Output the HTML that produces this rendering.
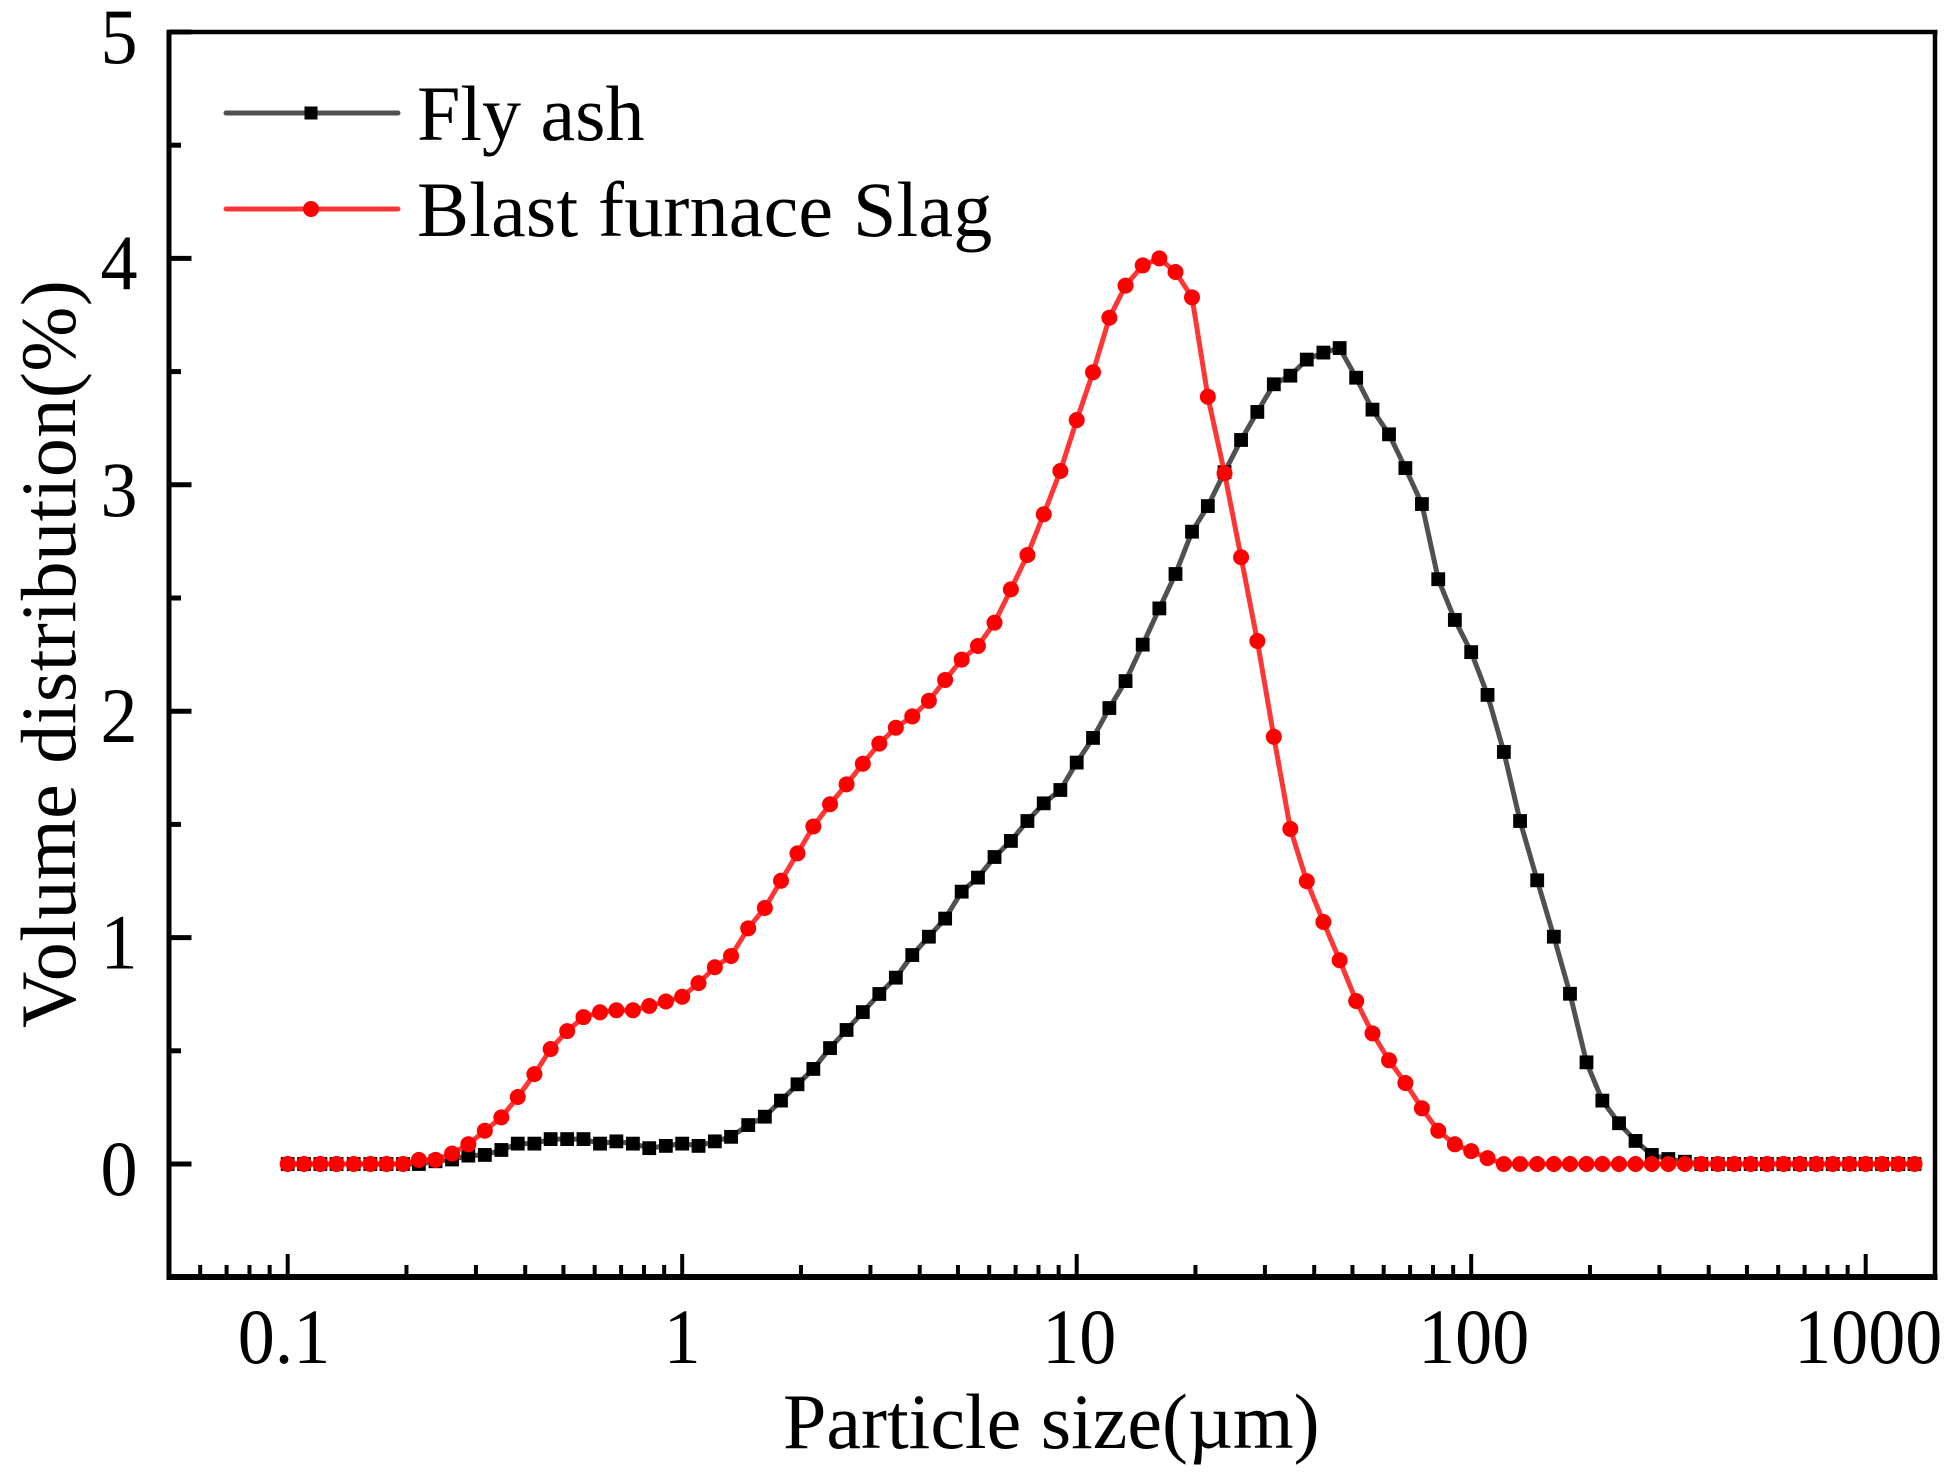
<!DOCTYPE html>
<html lang="en">
<head>
<meta charset="utf-8">
<title>Particle size distribution</title>
<style>
html,body{margin:0;padding:0;background:#fff;}
svg{display:block;}
text{font-family:"Liberation Serif","Times New Roman",serif;font-size:78px;fill:#000;}
</style>
</head>
<body>
<svg id="chart" xmlns="http://www.w3.org/2000/svg" width="1953" height="1480" viewBox="0 0 1953 1480">
  <rect x="0" y="0" width="1953" height="1480" fill="#fff"/>
  <g id="series"></g>
  <g id="axes"></g>
  <text x="783" y="1448">Particle size(µm)</text>
  <text transform="translate(75,1028) rotate(-90)" style="letter-spacing:0.5px">Volume distribution(%)</text>
  <g id="legend"></g>
</svg>
<script>
var particleSizes = [
0.1,0.11,0.121,0.133,0.147,0.162,0.178,0.196,0.215,0.237,0.261,0.287,0.316,0.348,0.383,0.422,0.464,0.511,0.562,0.619,0.681,0.75,0.825,0.909,
1,1.1,1.21,1.33,1.47,1.62,1.78,1.96,2.15,2.37,2.61,2.87,3.16,3.48,3.83,4.22,4.64,5.11,5.62,6.19,6.81,7.5,8.25,9.09,
10,11,12.1,13.3,14.7,16.2,17.8,19.6,21.5,23.7,26.1,28.7,31.6,34.8,38.3,42.2,46.4,51.1,56.2,61.9,68.1,75,82.5,90.9,
100,110,121,133,147,162,178,196,215,237,261,287,316,348,383,422,464,511,562,619,681,750,825,909,
1000,1100,1210,1330];
var flyAsh = [
0,0,0,0,0,0,0,0,0,0.012,
0.02,0.037,0.04,0.062,0.09,0.09,0.11,0.11,0.11,0.09,
0.10,0.09,0.07,0.08,0.09,0.08,0.10,0.12,0.172,0.209,
0.28,0.352,0.42,0.512,0.592,0.671,0.751,0.823,0.923,1.004,
1.084,1.203,1.265,1.356,1.427,1.515,1.593,1.652,1.773,1.882,
2.014,2.133,2.294,2.454,2.606,2.793,2.906,3.056,3.198,3.322,
3.444,3.482,3.553,3.584,3.604,3.473,3.332,3.223,3.074,2.915,
2.583,2.403,2.261,2.072,1.82,1.515,1.253,1.004,0.752,0.449,
0.28,0.18,0.102,0.04,0.022,0.01,0,0,0,0,
0,0,0,0,0,0,0,0,0,0];
var blastFurnaceSlag = [
0,0,0,0,0,0,0,0,0.018,0.018,
0.046,0.087,0.147,0.206,0.296,0.397,0.508,0.587,0.649,0.67,
0.679,0.679,0.698,0.718,0.739,0.799,0.869,0.919,1.041,1.131,
1.251,1.372,1.491,1.589,1.677,1.768,1.857,1.927,1.977,2.046,
2.138,2.228,2.288,2.391,2.538,2.69,2.87,3.061,3.286,3.497,
3.738,3.88,3.969,4.0,3.94,3.828,3.389,3.051,2.68,2.31,
1.887,1.48,1.249,1.069,0.9,0.72,0.577,0.458,0.358,0.246,
0.147,0.087,0.057,0.026,0,0,0,0,0,0,
0,0,0,0,0,0,0,0,0,0,
0,0,0,0,0,0,0,0,0,0];
var xMajorTicks = [0.1,1,10,100,1000];
var xMajorLabels = ["0.1","1","10","100","1000"];
var xMinorTicks = [0.06,0.07,0.08,0.09,0.2,0.3,0.4,0.5,0.6,0.7,0.8,0.9,2,3,4,5,6,7,8,9,20,30,40,50,60,70,80,90,200,300,400,500,600,700,800,900];
var yMajorTicks = [0,1,2,3,4,5];
var yMinorTicks = [0.5,1.5,2.5,3.5,4.5];

var NS = "http://www.w3.org/2000/svg";
function xPos(v){ return 287.7 + (Math.log10(v) + 1) * 394.5; }
function yPos(v){ return 1164 - v * 226.4; }
function mk(tag, attrs, parent){
  var el = document.createElementNS(NS, tag);
  for (var k in attrs) el.setAttribute(k, attrs[k]);
  parent.appendChild(el);
  return el;
}
var axes = document.getElementById("axes");
var series = document.getElementById("series");
var legend = document.getElementById("legend");

function drawSeries(values, lineColor, markerColor, kind, name){
  var pts = values.map(function(v, i){ return xPos(particleSizes[i]).toFixed(2) + "," + yPos(v).toFixed(2); }).join(" ");
  var line = mk("polyline", {points: pts, fill: "none", stroke: lineColor, "stroke-width": 5, "stroke-linejoin": "round"}, series);
  
  
  values.forEach(function(v, i){
    var cx = xPos(particleSizes[i]), cy = yPos(v), m;
    if (kind === "square") {
      m = mk("rect", {x: cx - 6.9, y: cy - 6.9, width: 13.8, height: 13.8, fill: markerColor}, series);
    } else {
      m = mk("circle", {cx: cx, cy: cy, r: 8, fill: markerColor}, series);
    }
    
    
  });
}
drawSeries(flyAsh, "#505050", "#000", "square", "fly-ash");
drawSeries(blastFurnaceSlag, "#ff3636", "#ff0000", "circle", "blast-furnace-slag");

var frame = [
  [166.5, 32, 1937.5, 32, 4.5, "top-axis-line"],
  [1935, 30, 1935, 1280, 4.5, "right-axis-line"],
  [169, 30, 169, 1280, 5, "left-axis-line"],
  [166.5, 1277, 1937.5, 1277, 6, "bottom-axis-line"]
];
frame.forEach(function(f){
  var l = mk("line", {x1: f[0], y1: f[1], x2: f[2], y2: f[3], stroke: "#000", "stroke-width": f[4]}, axes);
  
  
});
xMajorTicks.forEach(function(v, i){
  var t = mk("line", {x1: xPos(v), x2: xPos(v), y1: 1277, y2: 1254, stroke: "#000", "stroke-width": 4}, axes);
  
  
  var nudge = v < 1 ? -3.7 : (v > 1 ? 2.5 : 0);
  var lb = mk("text", {transform: "translate(" + (xPos(v) + nudge) + ",1363) scale(0.95,1)", "text-anchor": "middle"}, axes);
  lb.textContent = xMajorLabels[i];
  
  
});
xMinorTicks.forEach(function(v){
  var t = mk("line", {x1: xPos(v), x2: xPos(v), y1: 1277, y2: 1265, stroke: "#000", "stroke-width": 4}, axes);
  
  
});
yMajorTicks.forEach(function(v){
  var t = mk("line", {x1: 169, x2: 191.5, y1: yPos(v), y2: yPos(v), stroke: "#000", "stroke-width": 5}, axes);
  
  
  var lb = mk("text", {transform: "translate(119," + (yPos(v) + 31) + ") scale(0.95,1)", "text-anchor": "middle"}, axes);
  lb.textContent = String(v);
  
  
});
yMinorTicks.forEach(function(v){
  var t = mk("line", {x1: 169, x2: 181, y1: yPos(v), y2: yPos(v), stroke: "#000", "stroke-width": 5}, axes);
  
  
});

var l1 = mk("line", {x1: 226, x2: 398, y1: 113, y2: 113, stroke: "#505050", "stroke-width": 5, "stroke-linecap": "round"}, legend);


var m1 = mk("rect", {x: 304.5, y: 106.5, width: 13, height: 13, fill: "#000"}, legend);


var t1 = mk("text", {x: 417, y: 140}, legend);
t1.textContent = "Fly ash";


var l2 = mk("line", {x1: 226, x2: 398, y1: 209, y2: 209, stroke: "#ff3636", "stroke-width": 5, "stroke-linecap": "round"}, legend);


var m2 = mk("circle", {cx: 311, cy: 209, r: 8, fill: "#ff0000"}, legend);


var t2 = mk("text", {x: 417, y: 236, style: "letter-spacing:0.2px"}, legend);
t2.textContent = "Blast furnace Slag";


</script>
</body>
</html>
